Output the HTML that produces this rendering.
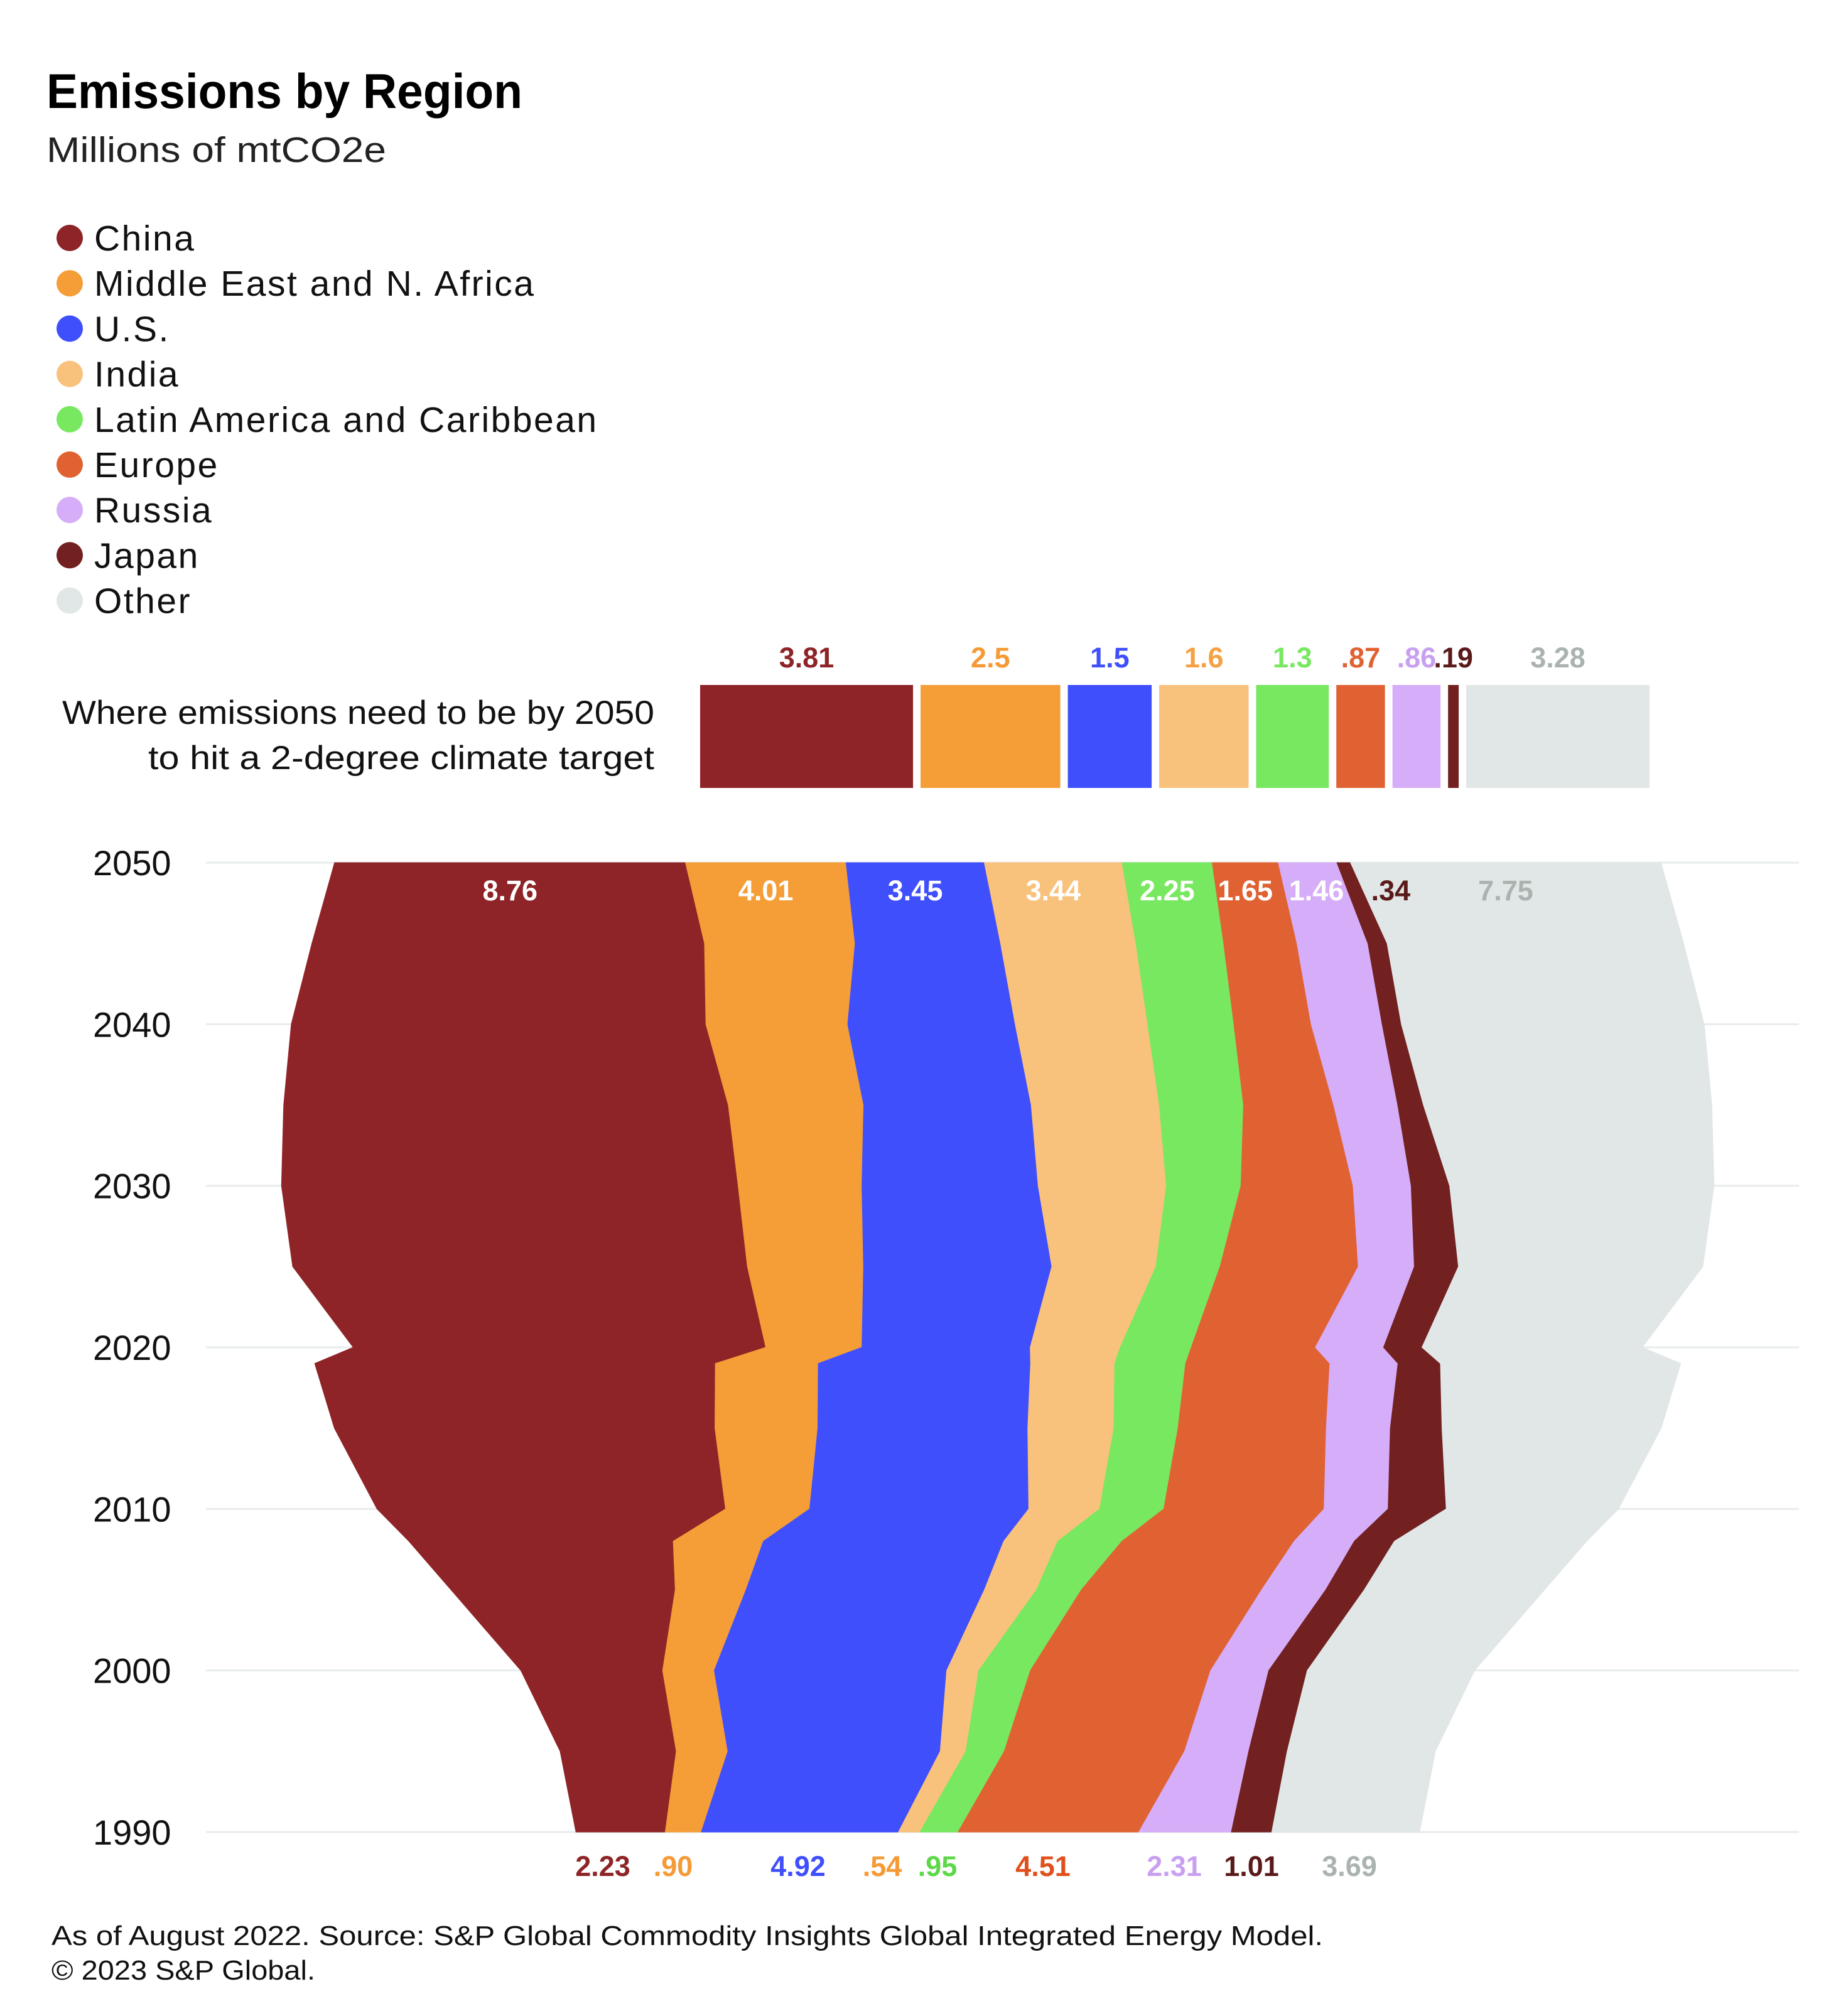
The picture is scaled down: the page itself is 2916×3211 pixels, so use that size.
<!DOCTYPE html>
<html><head><meta charset="utf-8"><style>
html,body{margin:0;padding:0;background:#fff;}
svg{display:block;font-family:"Liberation Sans",sans-serif;}
</style></head><body>
<svg id="chart" width="2916" height="3211" viewBox="0 0 2916 3211">
<text x="74" y="172" font-size="78" font-weight="bold" fill="#000" textLength="758" lengthAdjust="spacingAndGlyphs">Emissions by Region</text>
<text x="74" y="258" font-size="57" fill="#222" textLength="541" lengthAdjust="spacingAndGlyphs">Millions of mtCO2e</text>
<g id="legend"></g>
<text x="1042" y="1153" font-size="53" text-anchor="end" fill="#111" textLength="943" lengthAdjust="spacingAndGlyphs">Where emissions need to be by 2050</text>
<text x="1042" y="1225" font-size="53" text-anchor="end" fill="#111" textLength="806" lengthAdjust="spacingAndGlyphs">to hit a 2-degree climate target</text>
<g id="targetbar"></g>
<g id="grid"></g>
<g id="stream"></g>
<g id="labels"></g>
<text x="82" y="3098" font-size="44" fill="#111" textLength="2025" lengthAdjust="spacingAndGlyphs">As of August 2022. Source: S&amp;P Global Commodity Insights Global Integrated Energy Model.</text>
<text x="82" y="3153" font-size="44" fill="#111" textLength="420" lengthAdjust="spacingAndGlyphs">© 2023 S&amp;P Global.</text>
</svg>
<script>
const regions = ["China","Middle East and N. Africa","U.S.","India","Latin America and Caribbean","Europe","Russia","Japan","Other"];
const colors = ["#8e2427","#f59d36","#3f4ffc","#f8c27c","#77e85f","#e06232","#d6adf8","#722020","#e1e7e6"];
const targets = [3.81,2.5,1.5,1.6,1.3,0.87,0.86,0.19,3.28];
const targetLabels = ["3.81","2.5","1.5","1.6","1.3",".87",".86",".19","3.28"];
const years = [1990,1995,2000,2005,2008,2010,2015,2019,2020,2025,2030,2035,2040,2045,2050];
const china  = [2.23,2.9,3.54,5.6,6.6,8.7,9.5,10.0,10.3,11.35,11.4,11.1,10.35,9.8,8.76];
const mena   = [0.90,1.29,1.29,1.77,2.25,2.1,2.57,2.57,2.4,2.9,3.09,3.38,3.54,3.76,4.01];
const us     = [4.92,5.3,5.8,5.95,6.0,5.47,5.24,5.3,4.2,4.7,4.4,4.18,4.18,3.63,3.45];
const india  = [0.54,0.64,0.8,1.3,1.35,1.77,2.15,2.1,2.25,2.6,3.2,3.2,3.31,3.38,3.44];
const latam  = [0.95,0.96,1.29,1.12,1.6,1.6,1.6,1.77,1.77,1.6,1.86,2.1,2.15,2.19,2.25];
const europe = [4.51,4.5,4.5,4.5,4.3,4.0,3.7,3.6,3.1,3.45,2.8,2.25,1.93,1.83,1.65];
const russia = [2.31,1.6,1.45,1.6,1.5,1.6,1.6,1.7,1.7,1.4,1.45,1.6,1.77,1.77,1.46];
const japan  = [1.01,0.96,0.96,0.96,1.0,1.45,1.29,1.06,0.96,1.1,0.96,0.64,0.48,0.48,0.34];
const other  = [3.69,3.7,4.18,4.5,4.8,4.3,5.47,6.0,5.5,6.1,6.6,7.2,7.56,7.4,7.75];
const startLabels = ["2.23",".90","4.92",".54",".95","4.51","2.31","1.01","3.69"];
const endLabels = ["8.76","4.01","3.45","3.44","2.25","1.65","1.46",".34","7.75"];
const yearTicks = [1990,2000,2010,2020,2030,2040,2050];

const series=[china,mena,us,india,latam,europe,russia,japan,other];
const NS="http://www.w3.org/2000/svg";
const CX=1589, PXU=63.8;
const yOf = yr => 2918 - (yr-1990)*(2918-1374)/60;
function mk(tag,attrs,parent){const e=document.createElementNS(NS,tag);for(const k in attrs)e.setAttribute(k,attrs[k]);parent.appendChild(e);return e;}

// legend
const lg=document.getElementById('legend');
regions.forEach((r,i)=>{
  const y=379+i*72.2;
  const c=mk('circle',{cx:111,cy:y,r:21,fill:colors[i]},lg);
  
  
  const t=mk('text',{x:150,y:y+20,'font-size':57,fill:'#111','letter-spacing':2.5},lg);
  t.textContent=r;
  
  
});

// target bar
const tb=document.getElementById('targetbar');
const tScale=89, gap=12;
let tx=1115;
const tColors=["#8e2427","#f59a36","#3f4ffc","#f5a043","#77e85f","#e06232","#c9a0f0","#5a1a1a","#aab3b0"];
targets.forEach((v,i)=>{
  const w=v*tScale;
  const r=mk('rect',{x:tx,y:1091,width:w,height:164,fill:colors[i]},tb);
  
  
  const t=mk('text',{x:tx+w/2,y:1063,'font-size':45,'font-weight':'bold','text-anchor':'middle',fill:tColors[i]},tb);
  t.textContent=targetLabels[i];
  
  
  tx+=w+gap;
});

// grid + year labels
const gd=document.getElementById('grid');
yearTicks.forEach(yr=>{
  const y=yOf(yr);
  const l=mk('line',{x1:328,x2:2865,y1:y,y2:y,stroke:'#e8ecec','stroke-width':3},gd);
  
  
  const t=mk('text',{x:148,y:y+20,'font-size':56,fill:'#111'},gd);
  t.textContent=yr;
  
  
});

// stream
const st=document.getElementById('stream');
const totals=years.map((_,j)=>series.reduce((s,a)=>s+a[j],0));
const edges=[];
let cum=years.map((_,j)=>CX-totals[j]/2*PXU);
edges.push(cum.slice());
series.forEach(a=>{cum=cum.map((x,j)=>x+a[j]*PXU);edges.push(cum.slice());});
series.forEach((a,i)=>{
  let d='';
  years.forEach((yr,j)=>{d+=(j?'L':'M')+edges[i+1][j].toFixed(1)+' '+yOf(yr).toFixed(1);});
  for(let j=years.length-1;j>=0;j--){d+='L'+edges[i][j].toFixed(1)+' '+yOf(years[j]).toFixed(1);}
  const p=mk('path',{d:d+'Z',fill:colors[i],stroke:colors[i],'stroke-width':1},st);
  
  
});

// labels
const lb=document.getElementById('labels');
const last=years.length-1;
const endColors=["#fff","#fff","#fff","#fff","#fff","#fff","#fff","#5a1a1a","#aab3b0"];
endLabels.forEach((s,i)=>{
  let x=(edges[i][last]+edges[i+1][last])/2;
  if(i===7) x+=75;
  if(i===6) x+=14;
  const t=mk('text',{x:x,y:1434,'font-size':45,'font-weight':'bold','text-anchor':'middle',fill:endColors[i]},lb);
  t.textContent=s;
  
  
});
const startX=[960,1072,1271,1405,1493,1661,1870,1993,2149];
const startColors=["#8e2427","#f59a36","#3f4ffc","#f59a36","#5cd848","#e0501c","#c9a0f0","#5a1a1a","#aab3b0"];
startLabels.forEach((s,i)=>{
  const t=mk('text',{x:startX[i],y:2988,'font-size':45,'font-weight':'bold','text-anchor':'middle',fill:startColors[i]},lb);
  t.textContent=s;
  
  
});
</script>
</body></html>
